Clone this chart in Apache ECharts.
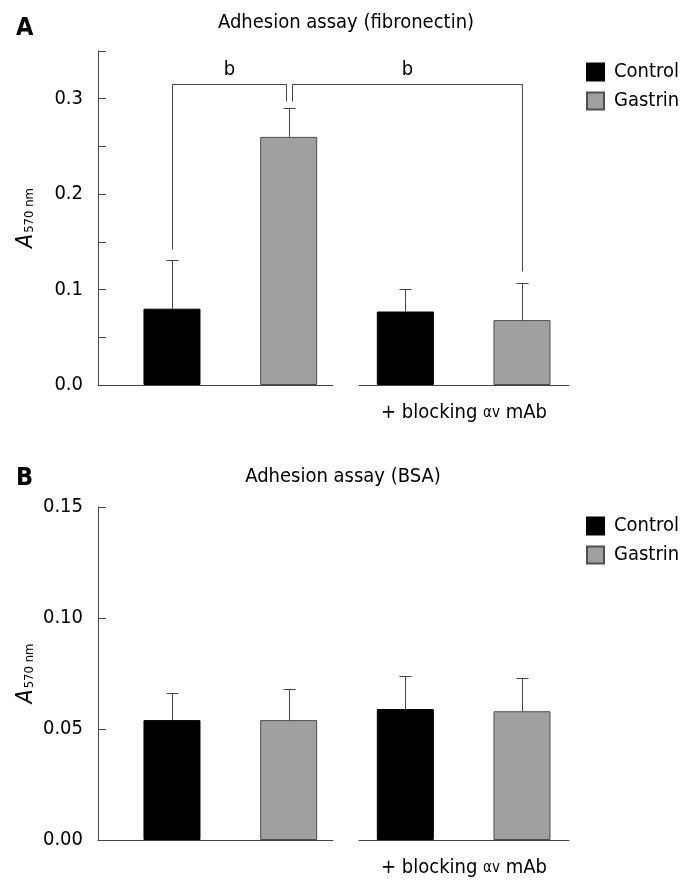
<!DOCTYPE html>
<html><head><meta charset="utf-8">
<script src="https://cdn.jsdelivr.net/npm/echarts@6/dist/echarts.min.js"></script>
<style>html,body{margin:0;padding:0;background:#fff}#c{width:689px;height:883px}</style>
</head><body><div id="c"></div>
<script>
// ---- data ----
const seriesNames = ['Control', 'Gastrin'];
const groupLabel = '+ blocking {g|αv} mAb';
const barPos = [0, 1, 2, 3];            // Control, Gastrin, Control+mAb, Gastrin+mAb
const barSeries = [0, 1, 0, 1];         // which legend series each bar belongs to
const fibroMean = [0.080, 0.260, 0.077, 0.068];
const fibroSD   = [0.051, 0.030, 0.024, 0.039];
const bsaMean   = [0.054, 0.054, 0.059, 0.058];
const bsaSD     = [0.012, 0.014, 0.015, 0.015];
const yLabelsA = ['0.0', '0.1', '0.2', '0.3'];
const yLabelsB = ['0.00', '0.05', '0.10', '0.15'];
// significance brackets: [fromBar, toBar, topValue, leftLegEnd, rightLegEnd]
const sigBrackets = [[0, 1, 0.315, 0.142, 0.297], [1, 3, 0.315, 0.297, 0.119]];
const sigLabels = ['b', 'b'];
const titleA = 'Adhesion assay (fibronectin)';
const titleB = 'Adhesion assay (BSA)';

// ---- styles ----
const F = "'DejaVu Sans Condensed', 'DejaVu Sans', sans-serif";
const AX = '#444';
const colors = ['#000000', '#a0a0a0'];
const borders = ['#000000', '#4d4d4d'];

function fmt(labels, step) {
  return function (v) {
    const k = Math.round(v / step);
    return (Math.abs(v - k * step) < 1e-9 && labels[k] !== undefined) ? labels[k] : '';
  };
}

function errRender(params, api) {
  const x = api.value(0), m = api.value(1), s = api.value(2);
  const p0 = api.coord([x, m]), p1 = api.coord([x, m + s]);
  const cx = Math.round(p0[0]) + 0.5;
  const y1 = Math.round(p1[1]) + 0.5;
  return { type: 'group', children: [
    { type: 'line', shape: { x1: cx, y1: p0[1], x2: cx, y2: y1 }, style: { stroke: AX, lineWidth: 1 } },
    { type: 'line', shape: { x1: cx - 6, y1: y1, x2: cx + 6, y2: y1 }, style: { stroke: AX, lineWidth: 1 } }
  ]};
}

function bracketRender(params, api) {
  const i = params.dataIndex;
  const from = api.value(0), to = api.value(1), top = api.value(2), le = api.value(3), re = api.value(4);
  const offL = sigBrackets.some((b, j) => j !== i && b[1] === from) ? 3 : 0;
  const offR = sigBrackets.some((b, j) => j !== i && b[0] === to) ? -3 : 0;
  const pt = api.coord([from, top]);
  const xl = Math.round(api.coord([from, top])[0] + offL) + 0.5;
  const xr = Math.round(api.coord([to, top])[0] + offR) + 0.5;
  const yt = Math.round(pt[1]) + 0.5;
  const yl = api.coord([from, le])[1];
  const yr = api.coord([to, re])[1];
  return { type: 'group', children: [
    { type: 'polyline', shape: { points: [[xl, yl], [xl, yt], [xr, yt], [xr, yr]] }, style: { stroke: AX, lineWidth: 1, fill: 'none' } },
    { type: 'text', x: (xl + xr) / 2, y: yt - 5, style: { text: sigLabels[i], fontSize: 20, fontFamily: F, fill: '#000', align: 'center', verticalAlign: 'bottom' } }
  ]};
}

function panel(pi, means, sds, ymax, labels, labelStep, tickStep, gridTop, gridH, legendTop, withBrackets) {
  const gL = pi * 2, gR = pi * 2 + 1;
  const grids = [
    { left: 98, top: gridTop, width: 235, height: gridH },
    { left: 359, top: gridTop, width: 210, height: gridH }
  ];
  const xAxes = [
    { type: 'value', gridIndex: gL, min: -0.634, max: 1.380, axisLine: { show: true, onZero: false, lineStyle: { color: AX, width: 1 } }, axisTick: { show: false }, axisLabel: { show: false }, splitLine: { show: false } },
    { type: 'value', gridIndex: gR, min: 1.603, max: 3.403, axisLine: { show: true, onZero: false, lineStyle: { color: AX, width: 1 } }, axisTick: { show: false }, axisLabel: { show: false }, splitLine: { show: false },
      name: groupLabel, nameLocation: 'middle', nameGap: 18,
      nameTextStyle: { fontSize: 20, fontFamily: F, color: '#000', rich: { g: { fontSize: 15, fontFamily: F, color: '#000' } } } }
  ];
  const yAxes = [
    { type: 'value', gridIndex: gL, min: 0, max: ymax, interval: tickStep,
      axisLine: { show: true, onZero: false, lineStyle: { color: AX, width: 1 } },
      axisTick: { show: true, inside: true, length: 8, lineStyle: { color: AX } },
      axisLabel: { formatter: fmt(labels, labelStep), fontSize: 20, fontFamily: F, color: '#000', margin: 15 },
      splitLine: { show: false },
      name: '{a|A}{s|570 nm}', nameLocation: 'middle', nameGap: 60,
      nameTextStyle: { rich: { a: { fontSize: 23, fontStyle: 'italic', fontFamily: F, color: '#000' }, s: { fontSize: 13, fontFamily: F, color: '#000', verticalAlign: 'bottom', padding: [0, 0, 2, 1] } } } },
    { type: 'value', gridIndex: gR, min: 0, max: ymax, interval: tickStep, show: false }
  ];
  const series = [];
  barPos.forEach((x, i) => {
    const left = x < 2;
    const si = barSeries[i];
    series.push({ type: 'bar', name: seriesNames[si], xAxisIndex: left ? gL : gR, yAxisIndex: left ? gL : gR,
      barWidth: 57, barGap: '-100%', data: [[x, means[i]]],
      itemStyle: { color: colors[si], borderColor: borders[si], borderWidth: 1 }, silent: true, animation: false });
  });
  [[0, 1], [2, 3]].forEach((idx, k) => {
    series.push({ type: 'custom', xAxisIndex: k === 0 ? gL : gR, yAxisIndex: k === 0 ? gL : gR, z: 5,
      renderItem: errRender, data: idx.map(i => [barPos[i], means[i], sds[i]]), animation: false, silent: true });
  });
  if (withBrackets) {
    series.push({ type: 'custom', xAxisIndex: gL, yAxisIndex: gL, clip: false, z: 6,
      renderItem: bracketRender, data: sigBrackets, animation: false, silent: true });
  }
  const legend = { data: seriesNames, left: 586, top: legendTop, orient: 'vertical', icon: 'rect', padding: 0,
    itemWidth: 17, itemHeight: 17, itemGap: 9,
    textStyle: { fontSize: 20, fontFamily: F, color: '#000', padding: [0, 0, 0, 5] } };
  return { grids, xAxes, yAxes, series, legend };
}

const pA = panel(0, fibroMean, fibroSD, 0.35, yLabelsA, 0.1, 0.05, 51, 334, 62, true);
const pB = panel(1, bsaMean, bsaSD, 0.15, yLabelsB, 0.05, 0.05, 507, 333, 516, false);

const option = {
  animation: false,
  backgroundColor: '#fff',
  title: [
    { text: 'A', left: 11, top: 11, textStyle: { fontSize: 25, fontWeight: 'bold', fontFamily: F, color: '#000' } },
    { text: titleA, left: 341, top: 8, textAlign: 'center', textStyle: { fontSize: 20, fontWeight: 'normal', fontFamily: F, color: '#000' } },
    { text: 'B', left: 11, top: 461, textStyle: { fontSize: 25, fontWeight: 'bold', fontFamily: F, color: '#000' } },
    { text: titleB, left: 338, top: 462, textAlign: 'center', textStyle: { fontSize: 20, fontWeight: 'normal', fontFamily: F, color: '#000' } }
  ],
  legend: [pA.legend, pB.legend],
  grid: pA.grids.concat(pB.grids),
  xAxis: pA.xAxes.concat(pB.xAxes),
  yAxis: pA.yAxes.concat(pB.yAxes),
  series: pA.series.concat(pB.series)
};
const chart = echarts.init(document.getElementById('c'), null, { renderer: 'canvas' });
chart.setOption(option);
</script></body></html>
